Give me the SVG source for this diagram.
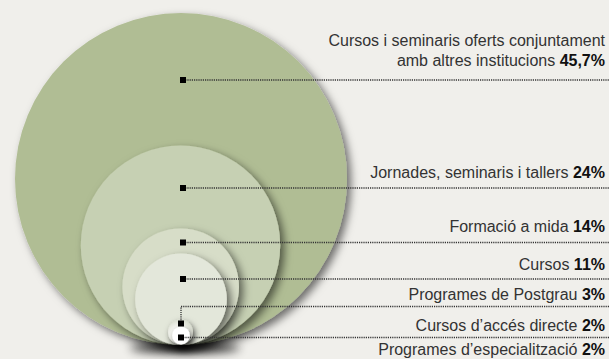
<svg xmlns="http://www.w3.org/2000/svg" width="609" height="359" viewBox="0 0 609 359">
<defs>
<filter id="sh" x="-20%" y="-20%" width="150%" height="150%">
<feDropShadow dx="4" dy="4" stdDeviation="4" flood-color="#000" flood-opacity="0.55"/>
</filter>
<filter id="shs" x="-60%" y="-60%" width="250%" height="250%">
<feDropShadow dx="2" dy="3" stdDeviation="3" flood-color="#000" flood-opacity="0.6"/>
</filter>
<filter id="blur" x="-50%" y="-100%" width="200%" height="300%">
<feGaussianBlur stdDeviation="5"/>
</filter>
<radialGradient id="g5" cx="0.45" cy="0.6" r="0.6">
<stop offset="0" stop-color="#ffffff"/>
<stop offset="0.6" stop-color="#f3f4ee"/>
<stop offset="1" stop-color="#d9ddcf"/>
</radialGradient>
</defs>
<style>
.lbl{font-family:"Liberation Sans",Arial,sans-serif;font-size:16px;fill:#333;text-anchor:end}
.lbl tspan.b{font-weight:bold;fill:#111}
.con{fill:none;stroke:#333;stroke-width:1.3;stroke-dasharray:1.2 1}
.sq{fill:#000}
</style>
<rect width="609" height="359" fill="#f0efeb"/>
<ellipse cx="185" cy="348" rx="55" ry="6" fill="#000" opacity="0.7" filter="url(#blur)"/>
<g id="n1">
<circle cx="181" cy="179" r="166" fill="#b0bd94" filter="url(#sh)"/>
</g>
<g id="n2">
<circle cx="180.5" cy="245.3" r="99.7" fill="#c6d0b3" filter="url(#sh)"/>
</g>
<g id="n3">
<circle cx="180.7" cy="286.7" r="58.3" fill="#d7ddc8" filter="url(#sh)"/>
</g>
<g id="n4">
<circle cx="181" cy="299.2" r="45.8" fill="#e3e7da" filter="url(#sh)"/>
</g>
<g id="n5">
<circle cx="180.5" cy="332" r="12.5" fill="url(#g5)" filter="url(#shs)"/>
</g>
<g id="n6">
<circle cx="181" cy="335.5" r="8.8" fill="#ffffff" filter="url(#shs)"/>
</g>
<g id="connectors">
<path class="con" d="M183 80H609"/>
<path class="con" d="M183 188H609"/>
<path class="con" d="M183 242.5H609"/>
<path class="con" d="M183 279H609"/>
<path class="con" d="M609 306.5H181V323.5"/>
<path class="con" d="M181 337.5H609"/>
<rect class="sq" x="180" y="77" width="6" height="6"/>
<rect class="sq" x="180" y="185" width="6" height="6"/>
<rect class="sq" x="180" y="239.5" width="6" height="6"/>
<rect class="sq" x="180" y="276" width="6" height="6"/>
<rect class="sq" x="178" y="320.5" width="6" height="6"/>
<rect class="sq" x="178" y="334.5" width="6" height="6"/>
</g>
<g id="labels">
<text class="lbl" x="605" y="46">Cursos i seminaris oferts conjuntament</text>
<text class="lbl" x="605" y="66">amb altres institucions <tspan class="b">45,7%</tspan></text>
<text class="lbl" x="605" y="177.5">Jornades, seminaris i tallers <tspan class="b">24%</tspan></text>
<text class="lbl" x="605" y="231.5">Formació a mida <tspan class="b">14%</tspan></text>
<text class="lbl" x="605" y="270">Cursos <tspan class="b">11%</tspan></text>
<text class="lbl" x="605" y="300">Programes de Postgrau <tspan class="b">3%</tspan></text>
<text class="lbl" x="605" y="331">Cursos d’accés directe <tspan class="b">2%</tspan></text>
<text class="lbl" x="605" y="355">Programes d’especialització <tspan class="b">2%</tspan></text>
</g>
</svg>
